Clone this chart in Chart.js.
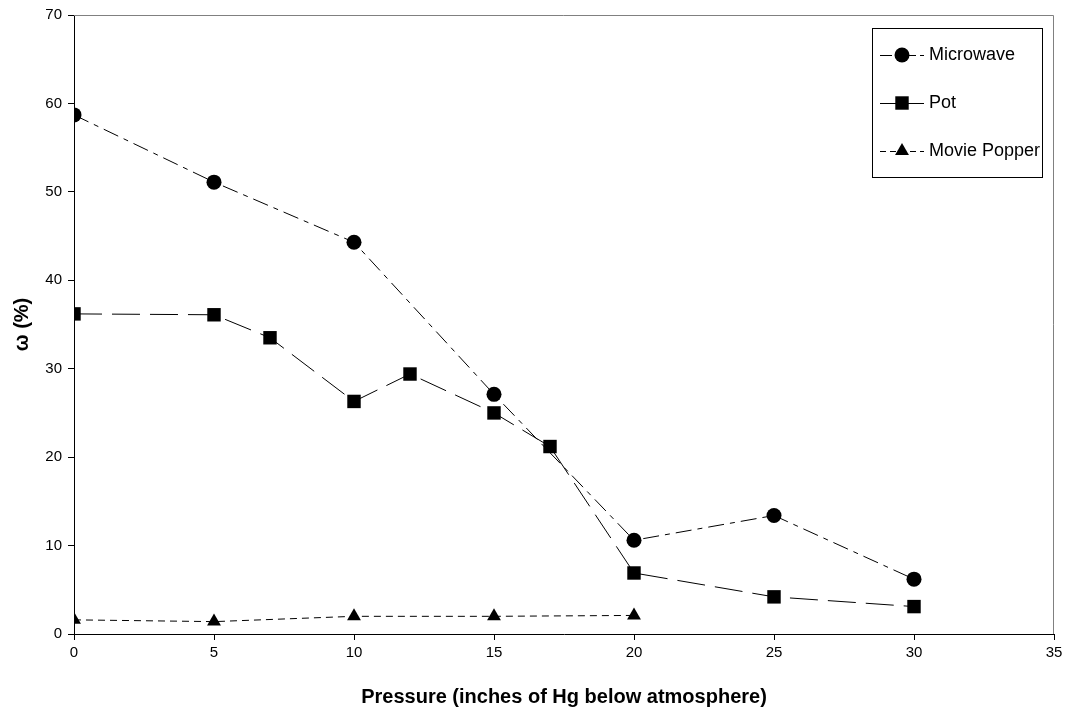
<!DOCTYPE html>
<html>
<head>
<meta charset="utf-8">
<script src="https://cdn.jsdelivr.net/npm/chart.js@4/dist/chart.umd.min.js"></script>
<style>
html,body{margin:0;padding:0;background:#fff;}
#wrap{width:1068px;height:713px;}
</style>
</head>
<body>
<div id="wrap"><canvas id="c" width="1068" height="713"></canvas></div>
<script>
const microwaveX = [0, 5, 10, 15, 20, 25, 30];
const microwaveY = [58.7, 51.1, 44.3, 27.1, 10.6, 13.4, 6.2];
const potX = [0, 5, 7, 10, 12, 15, 17, 20, 25, 30];
const potY = [36.2, 36.1, 33.5, 26.3, 29.4, 25.0, 21.2, 6.9, 4.2, 3.1];
const popperX = [0, 5, 10, 15, 20];
const popperY = [1.6, 1.4, 2.0, 2.0, 2.1];
const seriesNames = ['Microwave', 'Pot', 'Movie Popper'];
const xTitle = 'Pressure (inches of Hg below atmosphere)';
const yTitle = 'ω (%)';

const pts = (xs, ys) => xs.map((x, i) => ({x: x, y: ys[i]}));
const FONT = "'Liberation Sans', Arial, sans-serif";

const datasets = [
  {label: seriesNames[0], data: pts(microwaveX, microwaveY), pointStyle: 'circle', pointRadius: 7.5, borderDash: [16, 6, 5, 6]},
  {label: seriesNames[1], data: pts(potX, potY), pointStyle: 'rect', pointRadius: 9.5, borderDash: [28, 10]},
  {label: seriesNames[2], data: pts(popperX, popperY), pointStyle: 'triangle', pointRadius: 8, borderDash: [7, 5]}
].map(d => Object.assign({
  showLine: true, borderColor: '#000', backgroundColor: '#000', borderWidth: 1,
  pointBackgroundColor: '#000', pointBorderColor: '#000', pointBorderWidth: 0, tension: 0
}, d));

const legendDash = [[12, 4, 4, 4], [], [6, 4]];

const frame = {
  id: 'frame',
  beforeDatasetsDraw(chart) {
    const {ctx, chartArea: a} = chart;
    ctx.save();
    ctx.strokeStyle = '#808080';
    ctx.lineWidth = 1;
    ctx.beginPath();
    ctx.moveTo(a.left, a.top + 0.5);
    ctx.lineTo(a.right - 0.5, a.top + 0.5);
    ctx.lineTo(a.right - 0.5, a.bottom);
    ctx.stroke();
    ctx.restore();
  }
};

const boxLegend = {
  id: 'boxLegend',
  afterDraw(chart) {
    const {ctx} = chart;
    const L = 872, T = 28, R = 1042, B = 177;
    ctx.save();
    ctx.fillStyle = '#fff';
    ctx.fillRect(L, T, R - L, B - T);
    ctx.strokeStyle = '#000';
    ctx.lineWidth = 1;
    ctx.strokeRect(L + 0.5, T + 0.5, R - L, B - T);
    ctx.font = '18px ' + FONT;
    ctx.textBaseline = 'middle';
    chart.data.datasets.forEach((ds, i) => {
      const y = 55 + i * 48;
      ctx.strokeStyle = '#000';
      ctx.fillStyle = '#000';
      ctx.setLineDash(legendDash[i]);
      ctx.beginPath();
      ctx.moveTo(880, y + 0.5);
      ctx.lineTo(924, y + 0.5);
      ctx.stroke();
      ctx.setLineDash([]);
      Chart.helpers.drawPoint(ctx, {pointStyle: ds.pointStyle, radius: ds.pointRadius, rotation: 0, borderWidth: 0}, 902, y);
      ctx.fillStyle = '#000';
      ctx.fillText(ds.label, 929, y);
    });
    ctx.restore();
  }
};

new Chart(document.getElementById('c'), {
  type: 'scatter',
  data: {datasets},
  options: {
    responsive: false,
    animation: false,
    devicePixelRatio: 1,
    layout: {padding: {left: 0, right: 14, top: 13, bottom: 0}},
    plugins: {legend: {display: false}, tooltip: {enabled: false}},
    scales: {
      x: {
        type: 'linear', min: 0, max: 35,
        ticks: {stepSize: 5, color: '#000', font: {family: FONT, size: 15}, padding: 4},
        grid: {drawOnChartArea: false, drawTicks: true, tickLength: 6, color: '#000'},
        border: {display: true, color: '#000', width: 1},
        title: {display: true, text: xTitle, color: '#000', font: {family: FONT, size: 20, weight: 'bold'}, padding: {top: 4}},
        afterFit(s) { s.height = 79; }
      },
      y: {
        type: 'linear', min: 0, max: 70,
        ticks: {stepSize: 10, color: '#000', font: {family: FONT, size: 15}, padding: 6},
        grid: {drawOnChartArea: false, drawTicks: true, tickLength: 6, color: '#000'},
        border: {display: true, color: '#000', width: 1},
        title: {display: true, text: yTitle, color: '#000', font: {family: FONT, size: 20, weight: 'bold'}, padding: {top: 10, bottom: 0}},
        afterFit(s) { s.width = 74; }
      }
    }
  },
  plugins: [frame, boxLegend]
});
</script>
</body>
</html>
